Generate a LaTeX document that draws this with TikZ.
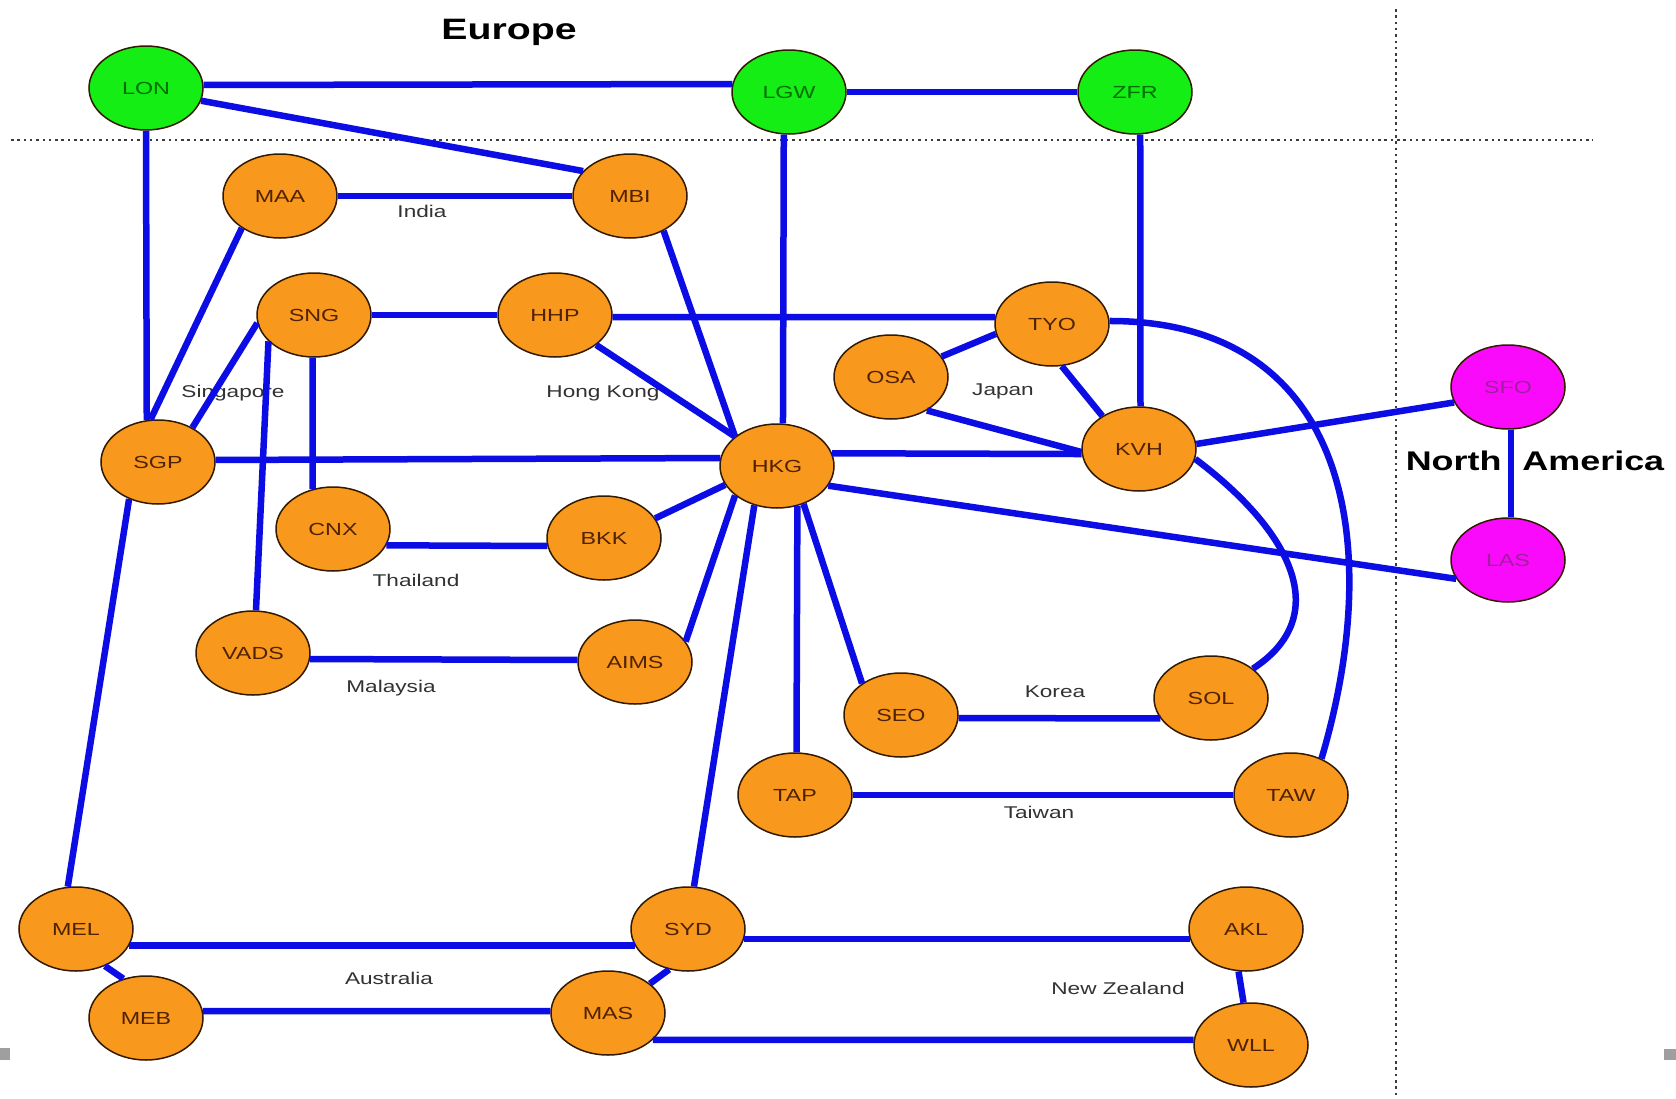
\documentclass[tikz,border=0pt]{standalone}
\usepackage{fontspec}
\setmainfont{Liberation Sans}[FakeStretch=1.33]
\usetikzlibrary{shapes.geometric}
\definecolor{linkblue}{RGB}{12,12,228}
\definecolor{nodeorange}{RGB}{248,152,29}
\definecolor{nodegreen}{RGB}{20,238,20}
\definecolor{nodemag}{RGB}{250,10,250}
\definecolor{bordercol}{RGB}{50,26,0}
\definecolor{labelgray}{RGB}{50,50,50}
\definecolor{asiatext}{RGB}{80,34,0}
\definecolor{eurotext}{RGB}{0,110,0}
\definecolor{amertext}{RGB}{160,30,160}
\definecolor{divgray}{RGB}{60,60,60}
\tikzset{
  site/.style={ellipse, draw=bordercol, line width=1.5pt, minimum width=114pt, minimum height=84pt, inner sep=0pt, font=\fontsize{17.5}{20}\selectfont},
  asia/.style={site, fill=nodeorange, text=asiatext},
  euro/.style={site, fill=nodegreen, text=eurotext},
  amer/.style={site, fill=nodemag, text=amertext},
  link/.style={draw=linkblue, line width=6.5pt},
  region/.style={text=labelgray, font=\fontsize{17}{20}\selectfont, inner sep=0pt},
  continent/.style={text=black, font=\bfseries, inner sep=0pt},
  divider/.style={draw=divgray, line width=2.5pt, dash pattern=on 2.5pt off 3.8pt},
}
\begin{document}
\begin{tikzpicture}[x=1pt, y=-1pt]
\useasboundingbox[fill=white] (0,0) rectangle (1676,1098);

% dividers
\coordinate (hl) at (11,140);
\coordinate (hr) at (1593,140);
\coordinate (vt) at (1396,9);
\coordinate (vb) at (1396,1096);
\draw[divider] (hl) -- (hr);
\draw[divider] (vt) -- (vb);

% small gray marks at the edges
\fill[gray!75] (0,1048) rectangle (10,1060);
\fill[gray!75] (1664,1049) rectangle (1676,1060);

% continent labels
\node[continent, font=\fontsize{29.5}{34}\selectfont\bfseries] (europe) at (509,32) {Europe};
\node[continent, font=\fontsize{27}{31}\selectfont\bfseries] (namerica) at (1535,461) {North\hspace{21pt}America};

% region labels
\node[region] (india) at (422,211) {India};
\node[region] (singapore) at (233,393) {Singapore};
\node[region] (hongkong) at (603,393) {Hong Kong};
\node[region] (japan) at (1003,391) {Japan};
\node[region] (thailand) at (416,580) {Thailand};
\node[region] (malaysia) at (391,688) {Malaysia};
\node[region] (korea) at (1055,692) {Korea};
\node[region] (taiwan) at (1039,812) {Taiwan};
\node[region] (australia) at (389,978) {Australia};
\node[region] (newzealand) at (1118,988) {New Zealand};

% nodes
\node[euro] (LON) at (146,88) {LON};
\node[euro] (LGW) at (789,92) {LGW};
\node[euro] (ZFR) at (1135,92) {ZFR};
\node[asia] (MAA) at (280,196) {MAA};
\node[asia] (MBI) at (630,196) {MBI};
\node[asia] (SNG) at (314,315) {SNG};
\node[asia] (HHP) at (555,315) {HHP};
\node[asia] (TYO) at (1052,324) {TYO};
\node[asia] (OSA) at (891,377) {OSA};
\node[asia] (SGP) at (158,462) {SGP};
\node[asia] (HKG) at (777,466) {HKG};
\node[asia] (KVH) at (1139,449) {KVH};
\node[amer] (SFO) at (1508,387) {SFO};
\node[amer] (LAS) at (1508,560) {LAS};
\node[asia] (CNX) at (333,529) {CNX};
\node[asia] (BKK) at (604,538) {BKK};
\node[asia] (VADS) at (253,653) {VADS};
\node[asia] (AIMS) at (635,662) {AIMS};
\node[asia] (SEO) at (901,715) {SEO};
\node[asia] (SOL) at (1211,698) {SOL};
\node[asia] (TAP) at (795,795) {TAP};
\node[asia] (TAW) at (1291,795) {TAW};
\node[asia] (MEL) at (76,929) {MEL};
\node[asia] (SYD) at (688,929) {SYD};
\node[asia] (AKL) at (1246,929) {AKL};
\node[asia] (MEB) at (146,1018) {MEB};
\node[asia] (MAS) at (608,1013) {MAS};
\node[asia] (WLL) at (1251,1045) {WLL};

% links
\draw[link] (LON.3) -- (LGW.172);
\draw[link] (LGW) -- (ZFR);
\draw[link] (LON.-13) -- (MBI.152);
\draw[link] (LON.south) -- (SGP.105);
\draw[link] (LGW.-97) -- (HKG.82);
\draw[link] (ZFR.-83) -- (KVH.88);
\draw[link] (MAA) -- (MBI);
\draw[link] (MAA.-140) -- (SGP.100);
\draw[link] (MBI.-46) -- (HKG.145);
\draw[link] (SNG) -- (HHP);
\draw[link] (HHP.-2) -- (TYO.173);
\draw[link] (HHP.-36) -- (HKG.145);
\draw[link] (SNG.-172) -- (SGP.45);
\draw[link] (SNG.-92) -- (CNX.117);
\draw[link] (SNG.-150) -- (VADS.86);
\draw[link] (SGP.2) -- (HKG.172);
\draw[link] (HKG.13) -- (KVH.-175);
\draw[link] (TYO.-170) -- (OSA.22);
\draw[link] (TYO.-77) -- (KVH.138);
\draw[link] (OSA.-43) -- (KVH.-177);
\draw[link] (KVH.5) -- (SFO.-164);
\draw[link] (HKG.-21) -- (LAS.-160);
\draw[link] (SFO.-86) -- (LAS.86);
\draw[link] (HKG.-160) -- (BKK.21);
\draw[link] (HKG.-145) -- (AIMS.22);
\draw[link] (HKG.-120) -- (SYD.82);
\draw[link] (HKG.-63) -- (TAP.88);
\draw[link] (HKG.-55) -- (SEO.141);
\draw[link] (CNX.-17) -- (BKK.-172);
\draw[link] (VADS.-6) -- (AIMS.178);
\draw[link] (SEO.-3) -- (SOL.-158);
\draw[link] (TAP) -- (TAW);
\draw[link] (SGP.-128) -- (MEL.101);
\draw[link] (MEL.-17) -- (SYD.-163);
\draw[link] (MEL.-52) -- (MEB.120);
\draw[link] (MEB.7) -- (MAS.178);
\draw[link] (SYD.-115) -- (MAS.35);
\draw[link] (SYD.-10) -- (AKL.-170);
\draw[link] (AKL.-100) -- (WLL.100);
\draw[link] (MAS.-31) -- (WLL.175);
\draw[link] (TYO.3) .. controls (1350,321) and (1385,545) .. (TAW.50);
\draw[link] (KVH.-10) .. controls (1290,530) and (1335,615) .. (SOL.35);
\end{tikzpicture}
\end{document}
